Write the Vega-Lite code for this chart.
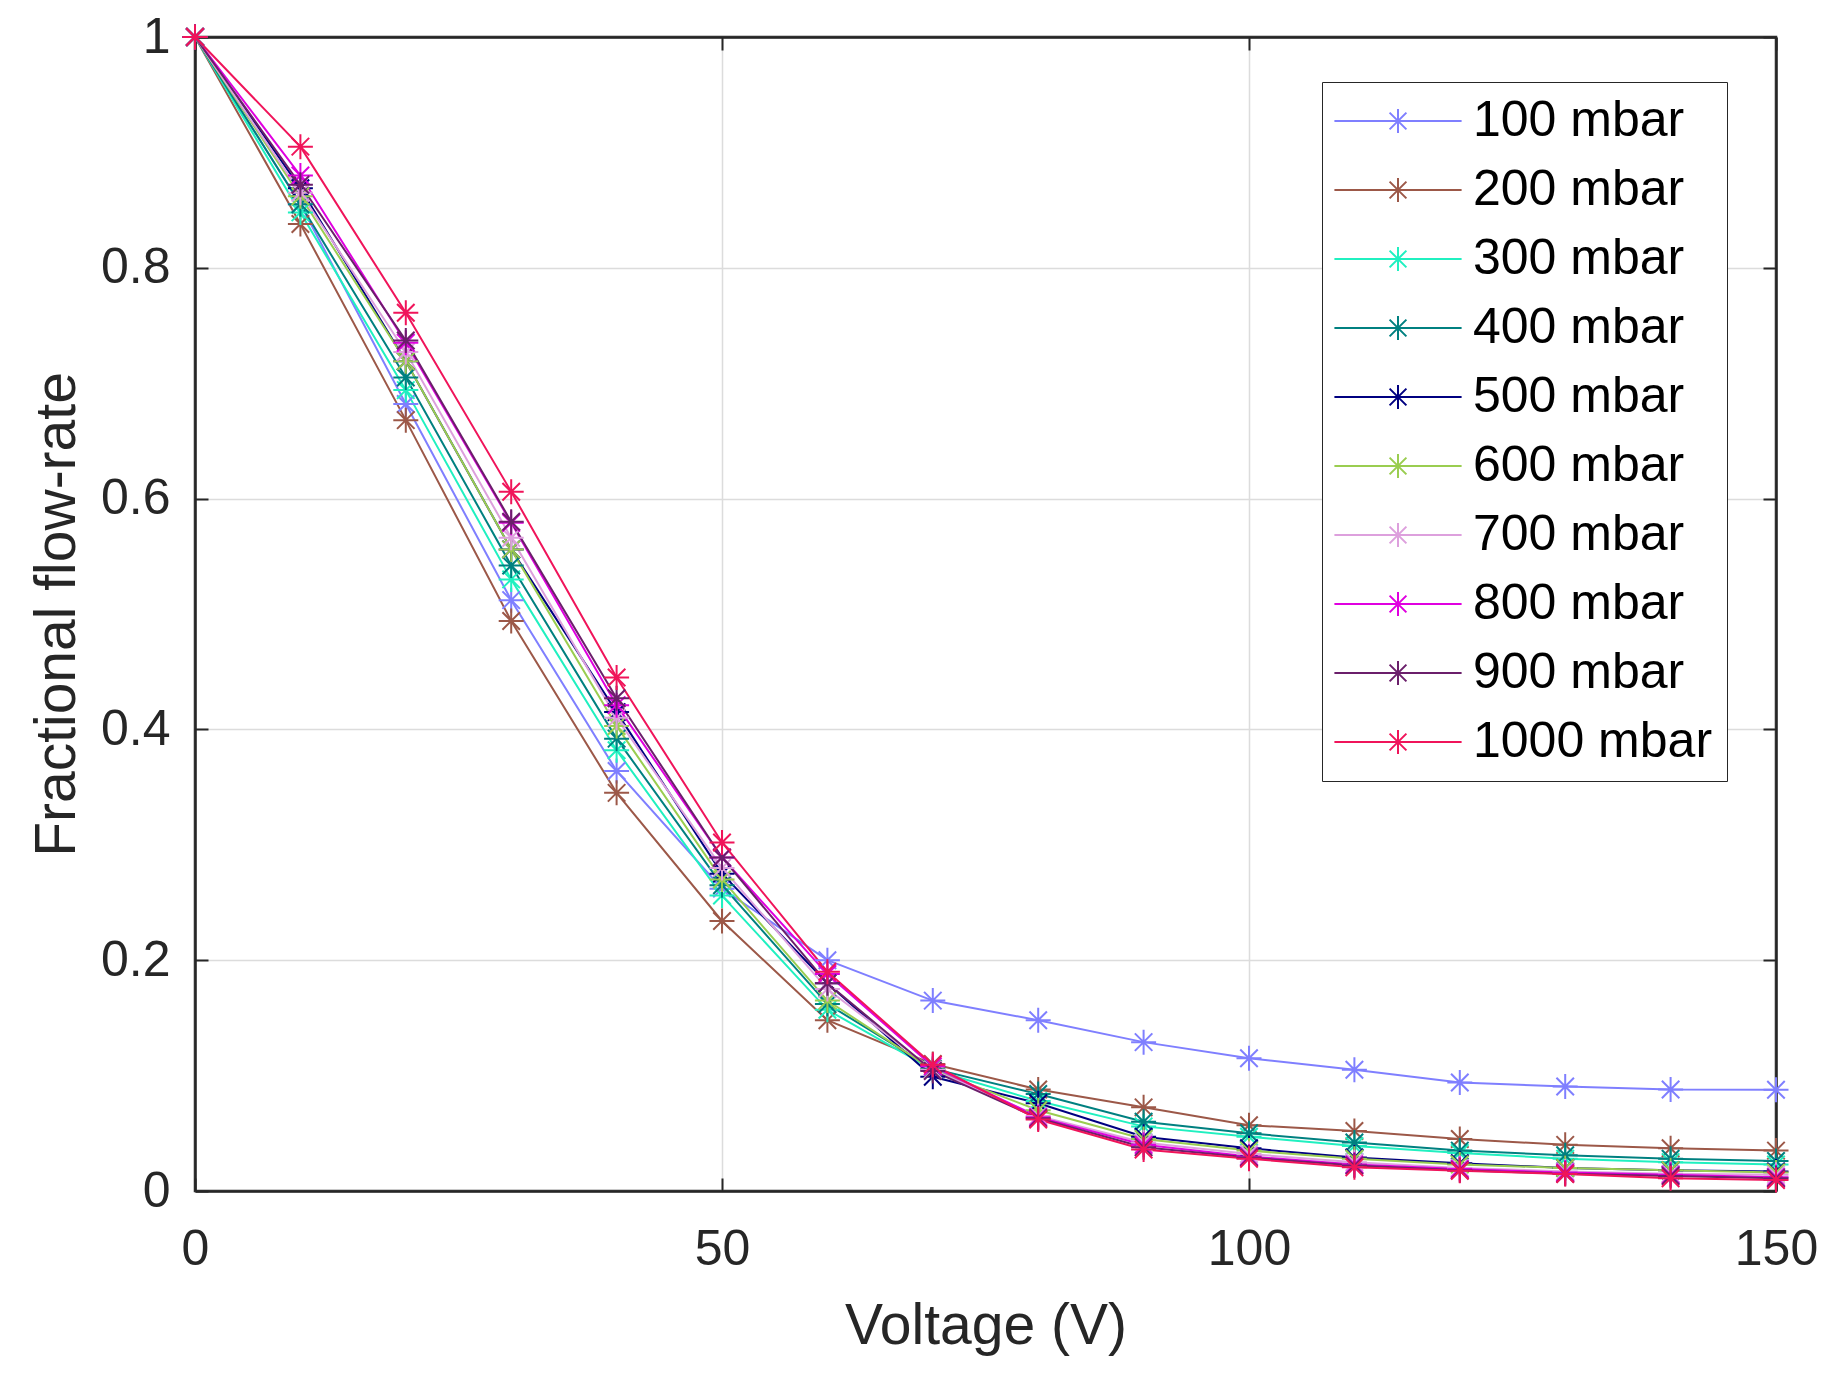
{
  "$schema": "https://vega.github.io/schema/vega-lite/v6.json",
  "width": 1581,
  "height": 1154,
  "autosize": {"type": "none"},
  "padding": {"left": 195, "top": 37, "right": 61, "bottom": 191},
  "background": "white",
  "config": {
    "font": "Liberation Sans",
    "view": {"stroke": "#262626", "strokeWidth": 2.5}
  },
  "data": {
    "values": [
      {"p":"100 mbar","v":0,"f":1},{"p":"100 mbar","v":10,"f":0.855},{"p":"100 mbar","v":20,"f":0.682},{"p":"100 mbar","v":30,"f":0.512},{"p":"100 mbar","v":40,"f":0.364},{"p":"100 mbar","v":50,"f":0.262},{"p":"100 mbar","v":60,"f":0.2},{"p":"100 mbar","v":70,"f":0.165},{"p":"100 mbar","v":80,"f":0.148},{"p":"100 mbar","v":90,"f":0.129},{"p":"100 mbar","v":100,"f":0.115},{"p":"100 mbar","v":110,"f":0.105},{"p":"100 mbar","v":120,"f":0.094},{"p":"100 mbar","v":130,"f":0.0906},{"p":"100 mbar","v":140,"f":0.088},{"p":"100 mbar","v":150,"f":0.0877},
      {"p":"200 mbar","v":0,"f":1},{"p":"200 mbar","v":10,"f":0.838},{"p":"200 mbar","v":20,"f":0.668},{"p":"200 mbar","v":30,"f":0.494},{"p":"200 mbar","v":40,"f":0.345},{"p":"200 mbar","v":50,"f":0.234},{"p":"200 mbar","v":60,"f":0.148},{"p":"200 mbar","v":70,"f":0.11},{"p":"200 mbar","v":80,"f":0.088},{"p":"200 mbar","v":90,"f":0.0725},{"p":"200 mbar","v":100,"f":0.057},{"p":"200 mbar","v":110,"f":0.052},{"p":"200 mbar","v":120,"f":0.045},{"p":"200 mbar","v":130,"f":0.04},{"p":"200 mbar","v":140,"f":0.037},{"p":"200 mbar","v":150,"f":0.035},
      {"p":"300 mbar","v":0,"f":1},{"p":"300 mbar","v":10,"f":0.848},{"p":"300 mbar","v":20,"f":0.694},{"p":"300 mbar","v":30,"f":0.53},{"p":"300 mbar","v":40,"f":0.382},{"p":"300 mbar","v":50,"f":0.256},{"p":"300 mbar","v":60,"f":0.157},{"p":"300 mbar","v":70,"f":0.105},{"p":"300 mbar","v":80,"f":0.078},{"p":"300 mbar","v":90,"f":0.056},{"p":"300 mbar","v":100,"f":0.047},{"p":"300 mbar","v":110,"f":0.039},{"p":"300 mbar","v":120,"f":0.033},{"p":"300 mbar","v":130,"f":0.028},{"p":"300 mbar","v":140,"f":0.025},{"p":"300 mbar","v":150,"f":0.023},
      {"p":"400 mbar","v":0,"f":1},{"p":"400 mbar","v":10,"f":0.855},{"p":"400 mbar","v":20,"f":0.705},{"p":"400 mbar","v":30,"f":0.542},{"p":"400 mbar","v":40,"f":0.392},{"p":"400 mbar","v":50,"f":0.265},{"p":"400 mbar","v":60,"f":0.162},{"p":"400 mbar","v":70,"f":0.106},{"p":"400 mbar","v":80,"f":0.084},{"p":"400 mbar","v":90,"f":0.06},{"p":"400 mbar","v":100,"f":0.05},{"p":"400 mbar","v":110,"f":0.042},{"p":"400 mbar","v":120,"f":0.035},{"p":"400 mbar","v":130,"f":0.031},{"p":"400 mbar","v":140,"f":0.028},{"p":"400 mbar","v":150,"f":0.026},
      {"p":"500 mbar","v":0,"f":1},{"p":"500 mbar","v":10,"f":0.869},{"p":"500 mbar","v":20,"f":0.719},{"p":"500 mbar","v":30,"f":0.556},{"p":"500 mbar","v":40,"f":0.415},{"p":"500 mbar","v":50,"f":0.275},{"p":"500 mbar","v":60,"f":0.18},{"p":"500 mbar","v":70,"f":0.099},{"p":"500 mbar","v":80,"f":0.076},{"p":"500 mbar","v":90,"f":0.047},{"p":"500 mbar","v":100,"f":0.037},{"p":"500 mbar","v":110,"f":0.029},{"p":"500 mbar","v":120,"f":0.024},{"p":"500 mbar","v":130,"f":0.02},{"p":"500 mbar","v":140,"f":0.018},{"p":"500 mbar","v":150,"f":0.017},
      {"p":"600 mbar","v":0,"f":1},{"p":"600 mbar","v":10,"f":0.862},{"p":"600 mbar","v":20,"f":0.719},{"p":"600 mbar","v":30,"f":0.556},{"p":"600 mbar","v":40,"f":0.403},{"p":"600 mbar","v":50,"f":0.27},{"p":"600 mbar","v":60,"f":0.165},{"p":"600 mbar","v":70,"f":0.105},{"p":"600 mbar","v":80,"f":0.07},{"p":"600 mbar","v":90,"f":0.045},{"p":"600 mbar","v":100,"f":0.035},{"p":"600 mbar","v":110,"f":0.028},{"p":"600 mbar","v":120,"f":0.023},{"p":"600 mbar","v":130,"f":0.02},{"p":"600 mbar","v":140,"f":0.018},{"p":"600 mbar","v":150,"f":0.016},
      {"p":"700 mbar","v":0,"f":1},{"p":"700 mbar","v":10,"f":0.865},{"p":"700 mbar","v":20,"f":0.727},{"p":"700 mbar","v":30,"f":0.566},{"p":"700 mbar","v":40,"f":0.41},{"p":"700 mbar","v":50,"f":0.28},{"p":"700 mbar","v":60,"f":0.175},{"p":"700 mbar","v":70,"f":0.105},{"p":"700 mbar","v":80,"f":0.065},{"p":"700 mbar","v":90,"f":0.042},{"p":"700 mbar","v":100,"f":0.032},{"p":"700 mbar","v":110,"f":0.025},{"p":"700 mbar","v":120,"f":0.02},{"p":"700 mbar","v":130,"f":0.017},{"p":"700 mbar","v":140,"f":0.015},{"p":"700 mbar","v":150,"f":0.014},
      {"p":"800 mbar","v":0,"f":1},{"p":"800 mbar","v":10,"f":0.88},{"p":"800 mbar","v":20,"f":0.735},{"p":"800 mbar","v":30,"f":0.579},{"p":"800 mbar","v":40,"f":0.421},{"p":"800 mbar","v":50,"f":0.289},{"p":"800 mbar","v":60,"f":0.188},{"p":"800 mbar","v":70,"f":0.108},{"p":"800 mbar","v":80,"f":0.064},{"p":"800 mbar","v":90,"f":0.04},{"p":"800 mbar","v":100,"f":0.03},{"p":"800 mbar","v":110,"f":0.023},{"p":"800 mbar","v":120,"f":0.019},{"p":"800 mbar","v":130,"f":0.016},{"p":"800 mbar","v":140,"f":0.014},{"p":"800 mbar","v":150,"f":0.012},
      {"p":"900 mbar","v":0,"f":1},{"p":"900 mbar","v":10,"f":0.872},{"p":"900 mbar","v":20,"f":0.737},{"p":"900 mbar","v":30,"f":0.58},{"p":"900 mbar","v":40,"f":0.427},{"p":"900 mbar","v":50,"f":0.289},{"p":"900 mbar","v":60,"f":0.18},{"p":"900 mbar","v":70,"f":0.104},{"p":"900 mbar","v":80,"f":0.063},{"p":"900 mbar","v":90,"f":0.038},{"p":"900 mbar","v":100,"f":0.029},{"p":"900 mbar","v":110,"f":0.022},{"p":"900 mbar","v":120,"f":0.018},{"p":"900 mbar","v":130,"f":0.015},{"p":"900 mbar","v":140,"f":0.013},{"p":"900 mbar","v":150,"f":0.011},
      {"p":"1000 mbar","v":0,"f":1},{"p":"1000 mbar","v":10,"f":0.905},{"p":"1000 mbar","v":20,"f":0.761},{"p":"1000 mbar","v":30,"f":0.606},{"p":"1000 mbar","v":40,"f":0.445},{"p":"1000 mbar","v":50,"f":0.302},{"p":"1000 mbar","v":60,"f":0.19},{"p":"1000 mbar","v":70,"f":0.1095},{"p":"1000 mbar","v":80,"f":0.062},{"p":"1000 mbar","v":90,"f":0.036},{"p":"1000 mbar","v":100,"f":0.028},{"p":"1000 mbar","v":110,"f":0.0205},{"p":"1000 mbar","v":120,"f":0.0176},{"p":"1000 mbar","v":130,"f":0.0147},{"p":"1000 mbar","v":140,"f":0.011},{"p":"1000 mbar","v":150,"f":0.0095}
    ]
  },
  "encoding": {
    "color": {
      "field": "p",
      "type": "nominal",
      "scale": {
        "domain": ["100 mbar","200 mbar","300 mbar","400 mbar","500 mbar","600 mbar","700 mbar","800 mbar","900 mbar","1000 mbar"],
        "range": ["#7f7fff","#9c5848","#20f0c0","#008080","#000080","#9acd50","#dda0dd","#e000e0","#6b1f6b","#f0145a"]
      },
      "legend": {
        "title": null,
        "orient": "none",
        "legendX": 1127,
        "legendY": 45,
        "padding": 14,
        "fillColor": "white",
        "strokeColor": "#262626",
        "symbolType": "M-5.3,0L5.3,0M0,-1L0,1M-0.7,-0.7L0.7,0.7M-0.7,0.7L0.7,-0.7",
        "symbolSize": 576,
        "symbolStrokeWidth": 2,
        "symbolOffset": 37,
        "labelOffset": 50,
        "labelFontSize": 50,
        "labelFont": "Liberation Sans",
        "labelColor": "#000000",
        "labelLimit": 500,
        "rowPadding": 19
      }
    }
  },
  "layer": [
    {
      "mark": {"type": "line", "strokeWidth": 2},
      "encoding": {
        "x": {
          "field": "v", "type": "quantitative",
          "scale": {"domain": [0, 150], "nice": false, "zero": false},
          "axis": {
            "orient": "bottom", "values": [0, 50, 100, 150], "title": "Voltage (V)",
            "grid": true, "gridColor": "#dcdcdc", "gridWidth": 1.5,
            "domainColor": "#262626", "domainWidth": 2.5,
            "tickColor": "#262626", "tickWidth": 2, "tickSize": -13,
            "labelFontSize": 50, "labelColor": "#262626", "labelPadding": 46, "labelFlush": false,
            "titleFontSize": 57, "titleFontWeight": "normal", "titleColor": "#262626", "titlePadding": 24
          }
        },
        "y": {
          "field": "f", "type": "quantitative",
          "scale": {"domain": [0, 1], "nice": false},
          "axis": {
            "orient": "left", "values": [0, 0.2, 0.4, 0.6, 0.8, 1], "format": "~g", "title": "Fractional flow-rate",
            "grid": true, "gridColor": "#dcdcdc", "gridWidth": 1.5,
            "domainColor": "#262626", "domainWidth": 2.5,
            "tickColor": "#262626", "tickWidth": 2, "tickSize": -13,
            "labelFontSize": 50, "labelColor": "#262626", "labelPadding": 38, "labelFlush": false,
            "titleFontSize": 57, "titleFontWeight": "normal", "titleColor": "#262626", "titlePadding": 14
          }
        }
      }
    },
    {
      "mark": {"type": "point", "shape": "M-1,0L1,0M0,-1L0,1M-0.7,-0.7L0.7,0.7M-0.7,0.7L0.7,-0.7", "filled": false, "strokeWidth": 2, "size": 625, "opacity": 1},
      "encoding": {
        "x": {
          "field": "v", "type": "quantitative",
          "axis": {"orient": "top", "values": [0, 50, 100, 150], "labels": false, "title": null, "grid": false,
            "domainColor": "#262626", "domainWidth": 2.5, "tickColor": "#262626", "tickWidth": 2, "tickSize": -13}
        },
        "y": {
          "field": "f", "type": "quantitative",
          "axis": {"orient": "right", "values": [0, 0.2, 0.4, 0.6, 0.8, 1], "labels": false, "title": null, "grid": false,
            "domainColor": "#262626", "domainWidth": 2.5, "tickColor": "#262626", "tickWidth": 2, "tickSize": -13}
        }
      }
    }
  ],
  "resolve": {"axis": {"x": "independent", "y": "independent"}}
}
